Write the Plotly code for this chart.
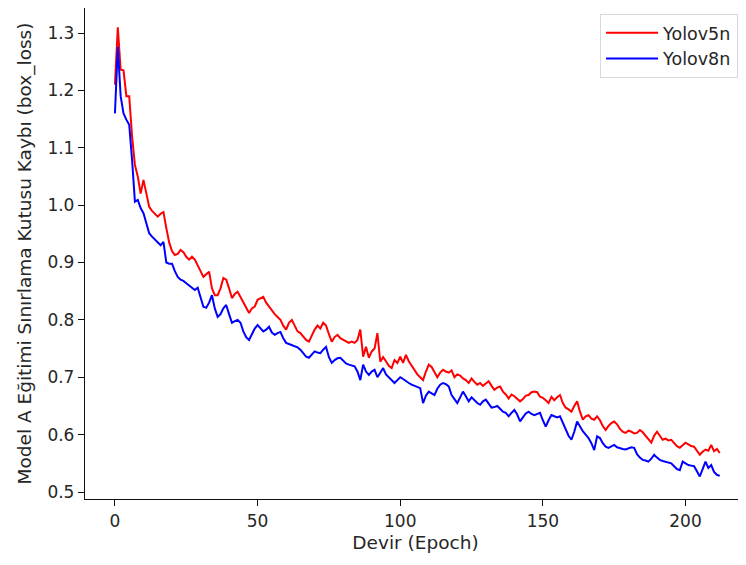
import plotly.graph_objects as go

epochs = list(range(213))

yolov5n = [
    1.21, 1.31, 1.236, 1.235, 1.19, 1.19, 1.12, 1.07, 1.05, 1.02,
    1.044, 1.02, 0.997, 0.99, 0.985, 0.98, 0.985, 0.988, 0.96, 0.935,
    0.92, 0.913, 0.915, 0.922, 0.918, 0.91, 0.905, 0.91, 0.905, 0.896,
    0.885, 0.875, 0.88, 0.884, 0.855, 0.843, 0.843, 0.855, 0.873, 0.87,
    0.855, 0.838, 0.845, 0.849, 0.84, 0.83, 0.82, 0.812, 0.82, 0.823,
    0.835, 0.838, 0.84, 0.83, 0.823, 0.815, 0.81, 0.805, 0.80, 0.79,
    0.783, 0.795, 0.80, 0.79, 0.78, 0.777, 0.77, 0.765, 0.762, 0.772,
    0.783, 0.79, 0.785, 0.795, 0.79, 0.775, 0.762, 0.77, 0.774, 0.768,
    0.765, 0.762, 0.76, 0.762, 0.76, 0.765, 0.783, 0.736, 0.753, 0.734,
    0.745, 0.75, 0.777, 0.727, 0.735, 0.728, 0.72, 0.716, 0.73, 0.725,
    0.736, 0.725, 0.739, 0.728, 0.72, 0.713, 0.705, 0.70, 0.695, 0.71,
    0.722, 0.718, 0.71, 0.70, 0.708, 0.713, 0.71, 0.708, 0.712, 0.70,
    0.705, 0.703, 0.698, 0.695, 0.69, 0.698, 0.692, 0.687, 0.69, 0.685,
    0.689, 0.693, 0.685, 0.678, 0.682, 0.684, 0.675, 0.67, 0.663, 0.67,
    0.667, 0.662, 0.658, 0.662, 0.668, 0.669, 0.674, 0.675, 0.674, 0.666,
    0.664, 0.66, 0.655, 0.666, 0.66, 0.665, 0.669, 0.655, 0.647, 0.644,
    0.64, 0.65, 0.658, 0.64, 0.626, 0.632, 0.634, 0.628, 0.626, 0.632,
    0.625, 0.615, 0.608, 0.615, 0.62, 0.623, 0.618, 0.61, 0.605, 0.603,
    0.607, 0.605, 0.602, 0.603, 0.608, 0.604, 0.598, 0.594, 0.586, 0.598,
    0.605, 0.598, 0.591, 0.593, 0.59, 0.591, 0.586, 0.58, 0.577, 0.582,
    0.586, 0.583, 0.58, 0.579, 0.572, 0.565, 0.57, 0.574, 0.572, 0.582,
    0.571, 0.575, 0.568,
]

yolov8n = [
    1.16, 1.276, 1.19, 1.16, 1.149, 1.14, 1.079, 1.006, 1.009, 0.995,
    0.986, 0.97, 0.951, 0.945, 0.94, 0.936, 0.93, 0.936, 0.90, 0.898,
    0.898, 0.885, 0.875, 0.87, 0.868, 0.864, 0.86, 0.855, 0.852, 0.856,
    0.84, 0.823, 0.821, 0.83, 0.843, 0.82, 0.805, 0.81, 0.82, 0.826,
    0.81, 0.795, 0.798, 0.80, 0.795, 0.78, 0.77, 0.765, 0.775, 0.785,
    0.791, 0.785, 0.78, 0.783, 0.788, 0.778, 0.774, 0.777, 0.779, 0.768,
    0.76, 0.758, 0.756, 0.755, 0.752, 0.748, 0.742, 0.736, 0.734, 0.74,
    0.745, 0.743, 0.742, 0.748, 0.753, 0.735, 0.725, 0.73, 0.733, 0.734,
    0.728, 0.724, 0.722, 0.72, 0.719, 0.71, 0.695, 0.722, 0.71, 0.704,
    0.71, 0.713, 0.70, 0.708, 0.716, 0.705, 0.70, 0.695, 0.69, 0.695,
    0.70, 0.697, 0.693, 0.69, 0.687, 0.685, 0.683, 0.681, 0.655, 0.668,
    0.675, 0.672, 0.669, 0.68, 0.687, 0.69, 0.688, 0.684, 0.669, 0.662,
    0.655, 0.665, 0.675, 0.667, 0.658, 0.665, 0.66, 0.655, 0.652, 0.658,
    0.661, 0.655, 0.647, 0.648, 0.65, 0.645, 0.64, 0.638, 0.632, 0.638,
    0.643, 0.635, 0.623, 0.63, 0.637, 0.64, 0.636, 0.634, 0.636, 0.638,
    0.625, 0.614, 0.625, 0.634, 0.632, 0.63, 0.632, 0.62, 0.608, 0.598,
    0.591, 0.605, 0.623, 0.614, 0.606, 0.60, 0.594, 0.585, 0.573, 0.597,
    0.594, 0.585, 0.579, 0.577, 0.58, 0.582, 0.578, 0.576, 0.575, 0.574,
    0.576, 0.578, 0.577, 0.566, 0.56, 0.556, 0.555, 0.553, 0.558, 0.565,
    0.56, 0.556, 0.554, 0.553, 0.551, 0.55, 0.545, 0.54, 0.538, 0.553,
    0.55, 0.547, 0.546, 0.545, 0.536, 0.527, 0.54, 0.553, 0.542, 0.547,
    0.535, 0.53, 0.528,
]

x_ticks = [0, 50, 100, 150, 200]
y_ticks = [0.5, 0.6, 0.7, 0.8, 0.9, 1.0, 1.1, 1.2, 1.3]

fig = go.Figure()
fig.add_trace(go.Scatter(x=epochs, y=yolov5n, mode="lines", name="Yolov5n",
                         line=dict(color="#ff0000", width=2)))
fig.add_trace(go.Scatter(x=epochs, y=yolov8n, mode="lines", name="Yolov8n",
                         line=dict(color="#0000ff", width=2)))

font_family = "DejaVu Sans, sans-serif"
text_color = "#262626"
axis_common = dict(
    showgrid=False, zeroline=False, showline=True, linecolor="#111111",
    linewidth=1.3, ticks="outside", ticklen=6, tickcolor="#111111",
    tickwidth=1.3, tickfont=dict(family=font_family, size=17, color=text_color),
    mirror=False, automargin=False,
)

fig.update_layout(
    width=738, height=557,
    paper_bgcolor="white", plot_bgcolor="white",
    margin=dict(l=77, r=0, t=0, b=66),
    font=dict(family=font_family, size=17, color=text_color),
    xaxis=dict(range=[-10.5, 221.2], tickvals=x_ticks,
               title=dict(text="Devir (Epoch)", standoff=6,
                          font=dict(family=font_family, size=18.5, color=text_color)),
               **axis_common),
    yaxis=dict(range=[0.4878, 1.3436], tickvals=y_ticks,
               ticktext=[f"{v:.1f}" for v in y_ticks],
               title=dict(text="Model A Eğitimi Sınırlama Kutusu Kaybı (box_loss)", standoff=10,
                          font=dict(family=font_family, size=18.5, color=text_color)),
               **axis_common),
    legend=dict(x=0.988, y=0.988, xanchor="right", yanchor="top",
                bgcolor="white", bordercolor="#d9d9d9", borderwidth=1,
                font=dict(family=font_family, size=17.5, color=text_color),
                itemwidth=52),
    showlegend=True,
)

fig.write_html("out.html")
